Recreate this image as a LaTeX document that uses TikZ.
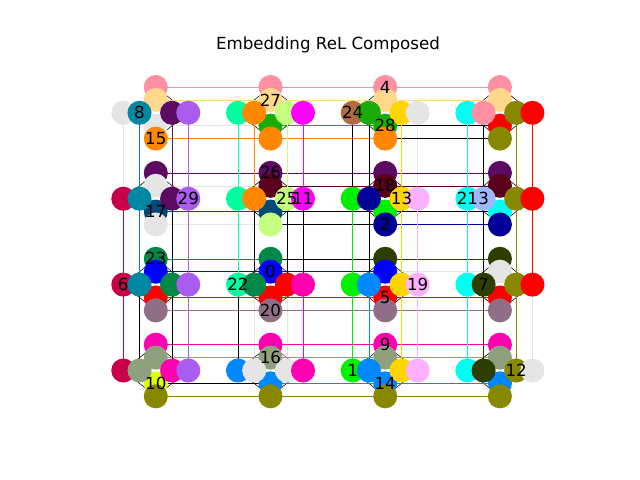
\documentclass[tikz,border=0pt]{standalone}
\usepackage{fontspec}
\setmainfont{DejaVu Sans}
\usetikzlibrary{calc}
\pgfdeclarelayer{bgedges}
\pgfdeclarelayer{edges}
\pgfsetlayers{bgedges,edges,main}
% chain colours, cu = unused qubit
\definecolor{c0}{HTML}{0000FF}
\definecolor{c1}{HTML}{00F000}
\definecolor{c2}{HTML}{000096}
\definecolor{c3}{HTML}{9CB8FF}
\definecolor{c4}{HTML}{FF8FA3}
\definecolor{c5}{HTML}{FF0000}
\definecolor{c6}{HTML}{C8004A}
\definecolor{c7}{HTML}{2E3D00}
\definecolor{c8}{HTML}{0088A3}
\definecolor{c9}{HTML}{FF00B0}
\definecolor{c10}{HTML}{DDFF00}
\definecolor{c11}{HTML}{FF00FF}
\definecolor{c12}{HTML}{888800}
\definecolor{c13}{HTML}{FFD500}
\definecolor{c14}{HTML}{0088FF}
\definecolor{c15}{HTML}{FF8800}
\definecolor{c16}{HTML}{8FA07C}
\definecolor{c17}{HTML}{004A7A}
\definecolor{c18}{HTML}{5A001A}
\definecolor{c19}{HTML}{FFB0FF}
\definecolor{c20}{HTML}{8F6E87}
\definecolor{c21}{HTML}{00FFF0}
\definecolor{c22}{HTML}{00FFA0}
\definecolor{c23}{HTML}{008848}
\definecolor{c24}{HTML}{B06B40}
\definecolor{c25}{HTML}{C4FF80}
\definecolor{c26}{HTML}{5C0A62}
\definecolor{c27}{HTML}{FFD88C}
\definecolor{c28}{HTML}{1AAA0A}
\definecolor{c29}{HTML}{AA5CEE}
\definecolor{cu}{HTML}{E5E5E5}
\tikzset{
dot/.style = {circle, fill=#1, minimum size=17.32pt,
              inner sep=0pt, outer sep=0pt},
lab/.style = {inner sep=0pt, font=\fontsize{12}{14}\selectfont}
}
\newcommand{\qvert}[3]{\node[dot=#3] (#1) at (#2) {};}
\newcommand{\labq}[2]{\node[lab] (l#2) at (#1) {#2};}
% edge colour: same chain -> chain colour, unused end -> grey, else black
% \epass = 1 draws the grey ones, 0 the others
\def\chu{u}
\newcommand{\qedge}[2]{%
  \edef\cha{\csname ch#1\endcsname}%
  \edef\chb{\csname ch#2\endcsname}%
  \def\ecol{black}\def\isgray{0}%
  \ifx\cha\chu \def\ecol{cu}\def\isgray{1}\fi
  \ifx\chb\chu \def\ecol{cu}\def\isgray{1}\fi
  \ifx\cha\chb \ifx\cha\chu\else \edef\ecol{c\cha}\fi\fi
  \ifnum\isgray=\epass
    \draw[color=\ecol] (#1.center) -- (#2.center);
  \fi
}
\newcommand{\alledges}{%
    % couplers inside each cell
    \foreach \r in {0,...,3}{
      \foreach \c in {0,...,3}{
        \foreach \i in {1,...,4}{
          \foreach \j in {5,...,8}{
            \qedge{q\r\c\i}{q\r\c\j}
          }}}}
    % couplers between cells
    \foreach \r in {0,...,3}{
      \foreach \c [evaluate=\c as \cn using int(\c+1)] in {0,1,2}{
        \foreach \i in {1,...,4}{
          \qedge{q\r\c\i}{q\r\cn\i}
        }}}
    \foreach \r [evaluate=\r as \rn using int(\r+1)] in {0,1,2}{
      \foreach \c in {0,...,3}{
        \foreach \j in {5,...,8}{
          \qedge{q\r\c\j}{q\rn\c\j}
        }}}%
}

\begin{document}
\begin{tikzpicture}[x=0.72pt, y=-0.72pt, line width=1pt]
    \useasboundingbox (0,0) rectangle (640,480);

    % cells: row/col/{T,t,b,B,L,l,r,R}
    \foreach \r/\c/\cl in {
      0/0/{4,27,u,15,u,8,26,29},
      0/1/{4,27,28,15,22,15,25,11},
      0/2/{4,27,28,15,24,28,13,u},
      0/3/{4,27,5,12,21,4,12,5},
      1/0/{26,u,17,u,6,8,26,29},
      1/1/{26,18,17,25,22,15,25,11},
      1/2/{26,18,1,2,1,2,13,19},
      1/3/{26,18,21,2,21,3,12,5},
      2/0/{23,0,5,20,6,8,23,29},
      2/1/{23,0,5,20,22,23,5,9},
      2/2/{7,0,5,20,1,14,13,19},
      2/3/{7,u,5,20,21,7,12,5},
      3/0/{9,16,10,12,6,16,9,29},
      3/1/{9,16,14,12,14,u,u,9},
      3/2/{9,16,14,12,1,14,13,19},
      3/3/{9,16,14,12,21,7,12,u}}{
      \pgfmathsetmacro{\X}{155.8+114.7*\c}
      \pgfmathsetmacro{\Y}{112.8+85.9*\r}
      \foreach \k [count=\i] in \cl {
        \ifnum\i<5
          \pgfmathsetmacro{\dx}{0}
          \pgfmathsetmacro{\dy}{{-25.8,-12.9,12.9,25.8}[\i-1]}
        \else
          \pgfmathsetmacro{\dx}{{-32.5,-16.3,16.3,32.5}[\i-5]}
          \pgfmathsetmacro{\dy}{0}
        \fi
        \qvert{q\r\c\i}{\X+\dx,\Y+\dy}{c\k}
        \expandafter\xdef\csname chq\r\c\i\endcsname{\k}
      }
    }

    \begin{pgfonlayer}{bgedges}
      \def\epass{1}\alledges
    \end{pgfonlayer}
    \begin{pgfonlayer}{edges}
      \def\epass{0}\alledges
    \end{pgfonlayer}

    % chain labels
    \foreach \q/\n in {q212/0, q325/1, q124/2, q136/3, q021/4, q223/5,
      q205/6, q236/7, q006/8, q321/9, q303/10, q118/11, q337/12, q127/13,
      q323/14, q004/15, q312/16, q103/17, q122/18, q228/19, q214/20,
      q135/21, q215/22, q201/23, q025/24, q117/25, q111/26, q012/27,
      q023/28, q108/29}{
      \labq{\q}{\n}
    }

    \node[lab, anchor=base] (title) at (328,49.3) {Embedding ReL Composed};
\end{tikzpicture}
\end{document}
